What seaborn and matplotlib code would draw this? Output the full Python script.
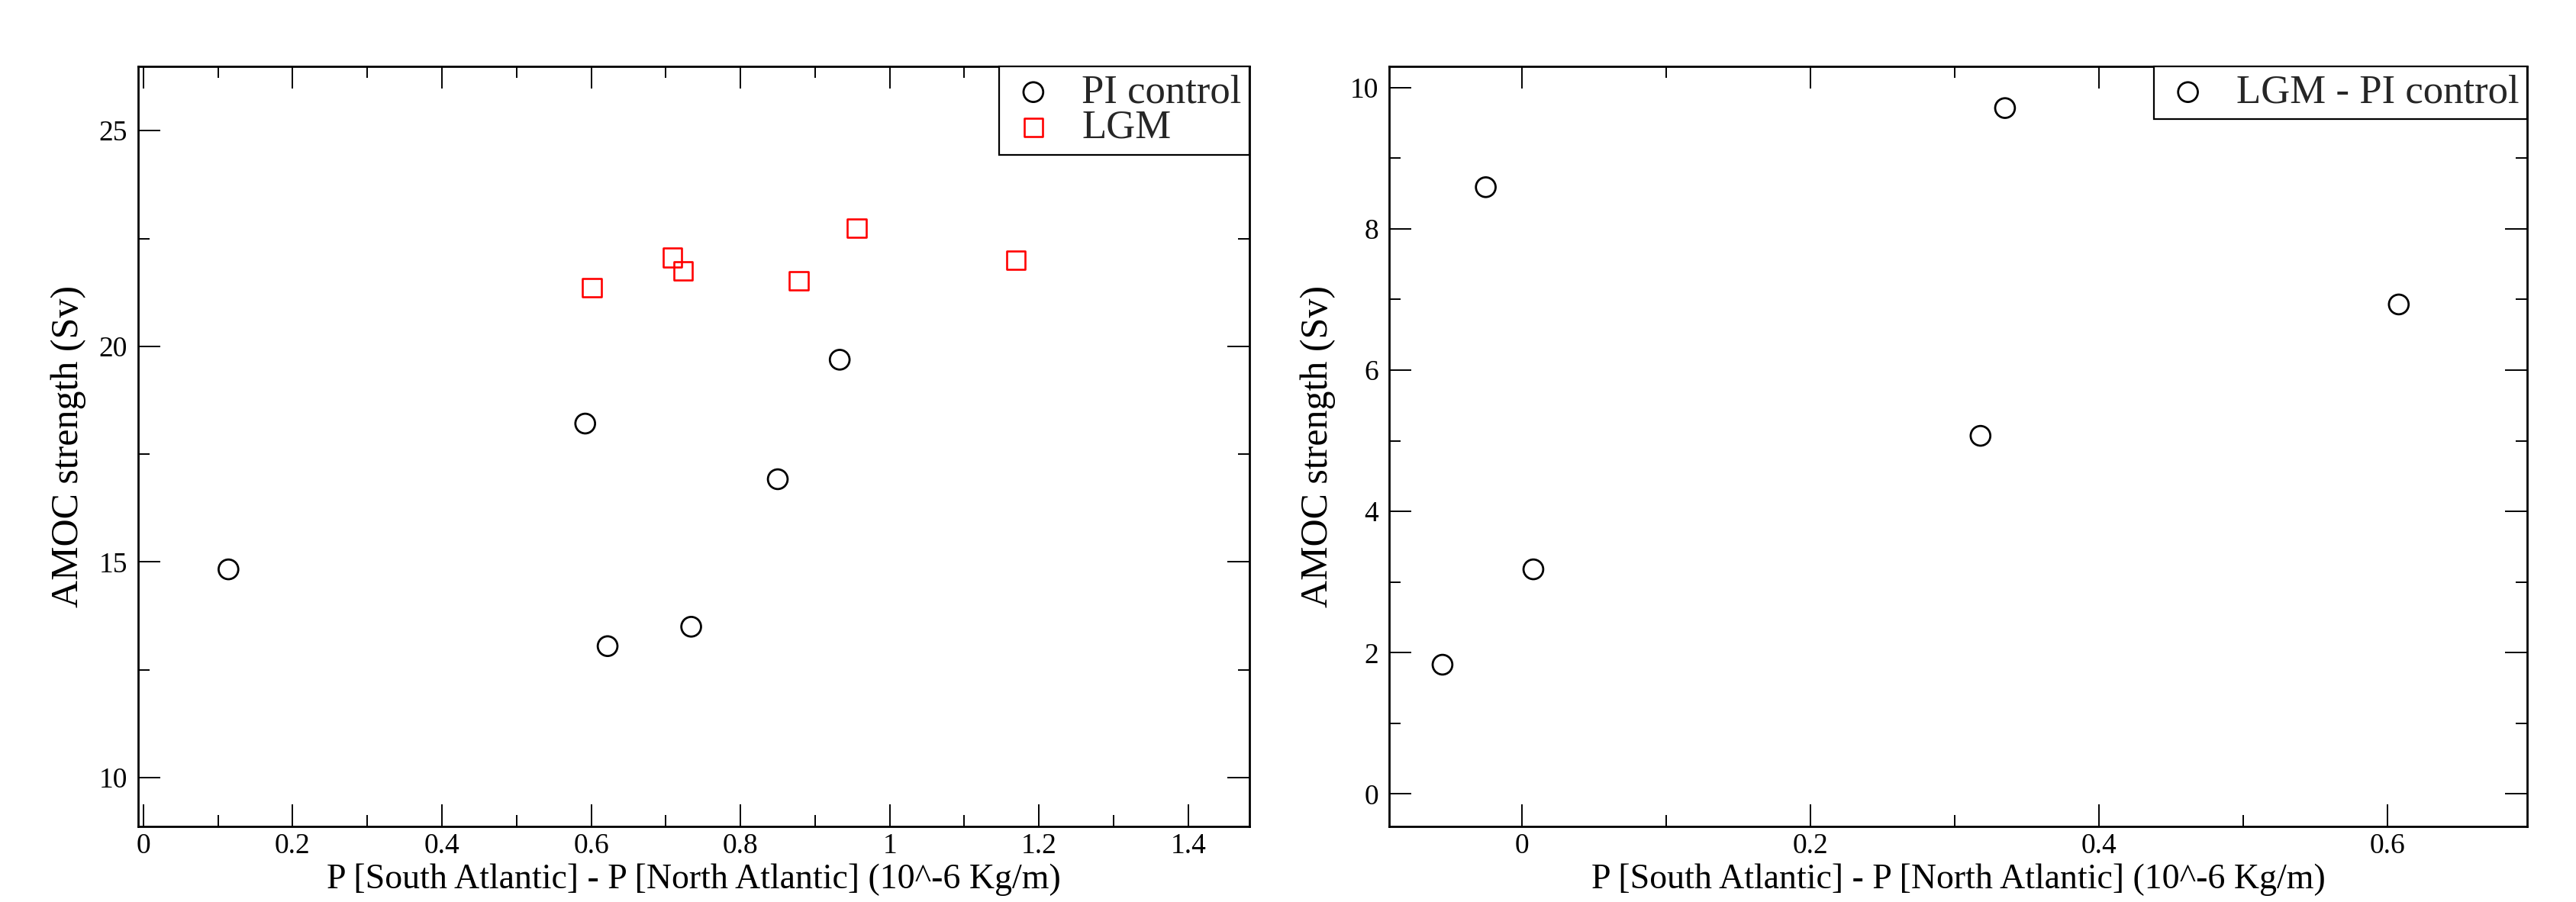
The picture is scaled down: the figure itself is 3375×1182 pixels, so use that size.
import numpy as np
import pandas as pd
import matplotlib
matplotlib.use("Agg")
import matplotlib.pyplot as plt
import seaborn as sns
from matplotlib.ticker import MultipleLocator, FixedLocator, FixedFormatter

# ---------------- data ----------------
pi_x = [0.114, 0.592, 0.622, 0.734, 0.850, 0.933]
pi_y = [14.83, 18.21, 13.05, 13.50, 16.92, 19.69]
lgm_x = [0.601, 0.709, 0.723, 0.878, 0.956, 1.169]
lgm_y = [21.36, 22.06, 21.75, 21.52, 22.74, 22.00]
diff_x = [-0.055, 0.008, -0.025, 0.318, 0.335, 0.608]
diff_y = [1.83, 3.18, 8.59, 5.07, 9.71, 6.93]

left_xticks = [0, 0.2, 0.4, 0.6, 0.8, 1.0, 1.2, 1.4]
left_xlabels = ["0", "0.2", "0.4", "0.6", "0.8", "1", "1.2", "1.4"]
left_yticks = [10, 15, 20, 25]
left_ylabels = ["10", "15", "20", "25"]
right_xticks = [0, 0.2, 0.4, 0.6]
right_xlabels = ["0", "0.2", "0.4", "0.6"]
right_yticks = [0, 2, 4, 6, 8, 10]
right_ylabels = ["0", "2", "4", "6", "8", "10"]

series_names = ["PI control", "LGM", "LGM - PI control"]
xlabel = "P [South Atlantic] - P [North Atlantic] (10^-6 Kg/m)"
ylabel = "AMOC strength (Sv)"

# ---------------- style ----------------
sns.set_theme(style="white")
plt.rcParams["font.family"] = ["Liberation Serif", "DejaVu Serif"]

DPI = 100
fig = plt.figure(figsize=(33.75, 11.82), dpi=DPI)

ax1 = fig.add_axes([181 / 3375, 1 - 1083 / 1182, (1637 - 181) / 3375, (1083 - 87) / 1182])
ax2 = fig.add_axes([1820 / 3375, 1 - 1083 / 1182, (3311 - 1820) / 3375, (1083 - 87) / 1182])

TICK_FS = 27
LABEL_FS = 33
YLABEL_FS = 36
LEG_FS = 38

df_pi = pd.DataFrame({"x": pi_x, "y": pi_y})
df_lgm = pd.DataFrame({"x": lgm_x, "y": lgm_y})
df_diff = pd.DataFrame({"x": diff_x, "y": diff_y})

circ_kw = dict(marker="o", s=345, facecolor="none", edgecolor="black", linewidth=2.0)
sq_kw = dict(marker="s", s=311, facecolor="none", edgecolor="#ff0000", linewidth=1.9)

sns.scatterplot(data=df_pi, x="x", y="y", ax=ax1, label=series_names[0], **circ_kw)
sns.scatterplot(data=df_lgm, x="x", y="y", ax=ax1, label=series_names[1], **sq_kw)
sns.scatterplot(data=df_diff, x="x", y="y", ax=ax2, label=series_names[2], **circ_kw)

ax1.set_xlim(-0.007, 1.482)
ax1.set_ylim(8.87, 26.49)
ax2.set_xlim(-0.092, 0.697)
ax2.set_ylim(-0.46, 10.30)

ax1.xaxis.set_major_locator(FixedLocator(left_xticks))
ax1.xaxis.set_major_formatter(FixedFormatter(left_xlabels))
ax1.xaxis.set_minor_locator(MultipleLocator(0.1))
ax1.yaxis.set_major_locator(FixedLocator(left_yticks))
ax1.yaxis.set_major_formatter(FixedFormatter(left_ylabels))
ax1.yaxis.set_minor_locator(MultipleLocator(2.5))

ax2.xaxis.set_major_locator(FixedLocator(right_xticks))
ax2.xaxis.set_major_formatter(FixedFormatter(right_xlabels))
ax2.xaxis.set_minor_locator(MultipleLocator(0.1))
ax2.yaxis.set_major_locator(FixedLocator(right_yticks))
ax2.yaxis.set_major_formatter(FixedFormatter(right_ylabels))
ax2.yaxis.set_minor_locator(MultipleLocator(1))

for ax in (ax1, ax2):
    ax.set_facecolor("white")
    for sp in ax.spines.values():
        sp.set_visible(True)
        sp.set_color("black")
        sp.set_linewidth(2.0)
    ax.tick_params(which="both", direction="in", top=True, right=True,
                   bottom=True, left=True, labeltop=False, labelright=False,
                   colors="black", labelcolor="black")
    ax.tick_params(which="major", length=21, width=1.4, labelsize=TICK_FS)
    ax.tick_params(axis="x", which="major", pad=6)
    ax.tick_params(axis="y", which="major", pad=10)
    ax.tick_params(which="minor", length=11, width=1.4)
    ax.set_xlabel(xlabel, fontsize=LABEL_FS, color="black")
    ax.set_ylabel(ylabel, fontsize=YLABEL_FS, color="black")
    ax.xaxis.set_label_coords(0.5, -0.0485)
    ax.grid(False)

ax1.yaxis.set_label_coords(-0.047, 0.5)
ax2.yaxis.set_label_coords(-0.047, 0.5)

for ax in (ax1, ax2):
    leg = ax.legend(loc="upper right", borderaxespad=0, fancybox=False, frameon=True,
                    edgecolor="black", framealpha=1, fontsize=LEG_FS,
                    borderpad=0.2, handlelength=1.3, handletextpad=0.55,
                    labelspacing=-0.03)
    leg.get_frame().set_linewidth(1.6)

fig.savefig("out.png", dpi=DPI, facecolor="white")
